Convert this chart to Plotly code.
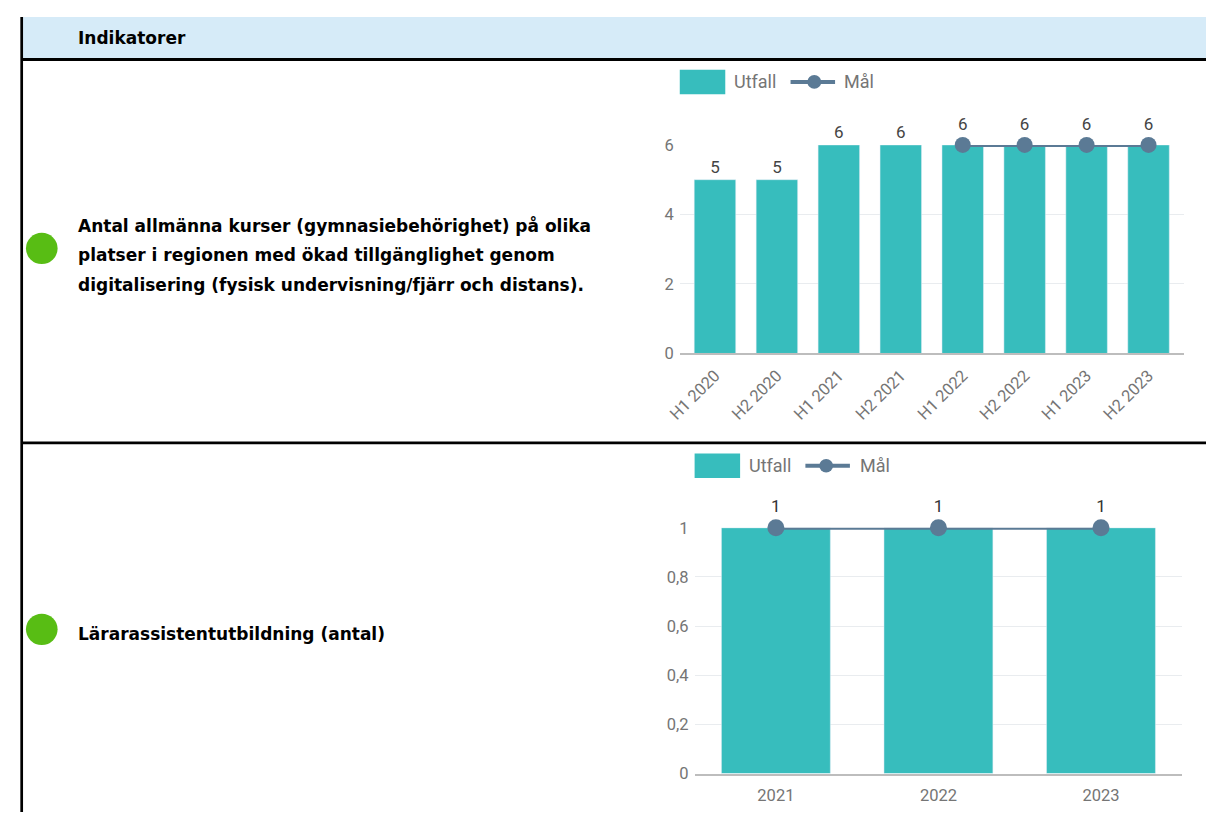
import plotly.graph_objects as go

# Data
perioder = ["H1 2020", "H2 2020", "H1 2021", "H2 2021", "H1 2022", "H2 2022", "H1 2023", "H2 2023"]
utfall_kurser = [5, 5, 6, 6, 6, 6, 6, 6]
mal_kurser = [None, None, None, None, 6, 6, 6, 6]

ar = ["2021", "2022", "2023"]
utfall_assistent = [1, 1, 1]
mal_assistent = [1, 1, 1]

rubrik = "Indikatorer"
indikator1 = ["Antal allmänna kurser (gymnasiebehörighet) på olika",
              "platser i regionen med ökad tillgänglighet genom",
              "digitalisering (fysisk undervisning/fjärr och distans)."]
indikator2 = "Lärarassistentutbildning (antal)"

# sidan har 8 px marginal runt figuren, så figuren görs lite mindre än fönstret
W, H = 1198, 814
OFF = 8
TEAL = "#37bdbd"
SLATE = "#5b7a95"
GREY = "#757575"
GREEN = "#58bd14"


def px(x):
    return min(max((x - OFF) / W, 0), 1)


def py(y):
    return min(max(1 - (y - OFF) / H, 0), 1)


# etiketter: staplar utan mål får sin etikett på stapeln, annars visas den över målpunkten
text_staplar = [str(u) if m is None else "" for u, m in zip(utfall_kurser, mal_kurser)]

fig = go.Figure()

# Diagram 1
fig.add_trace(go.Bar(x=perioder, y=utfall_kurser, name="Utfall", marker=dict(color=TEAL),
                     text=text_staplar, textposition="outside", cliponaxis=False,
                     textfont=dict(color="#444", size=17, family="Roboto"),
                     xaxis="x", yaxis="y", showlegend=False))
fig.add_trace(go.Scatter(x=perioder, y=mal_kurser, name="Mål", mode="lines+markers+text",
                         text=mal_kurser, textposition="top center",
                         textfont=dict(color="#444", size=17, family="Roboto"),
                         line=dict(color=SLATE, width=4), marker=dict(color=SLATE, size=16),
                         cliponaxis=False, xaxis="x", yaxis="y", showlegend=False))

# Diagram 2
fig.add_trace(go.Bar(x=ar, y=utfall_assistent, name="Utfall", marker=dict(color=TEAL),
                     xaxis="x2", yaxis="y2", showlegend=False))
fig.add_trace(go.Scatter(x=ar, y=mal_assistent, name="Mål", mode="lines+markers+text",
                         text=mal_assistent, textposition="top center",
                         textfont=dict(color="#333", size=17, family="Roboto"),
                         line=dict(color=SLATE, width=4), marker=dict(color=SLATE, size=17),
                         cliponaxis=False, xaxis="x2", yaxis="y2", showlegend=False))

axfont = dict(family="Roboto", size=16.5, color=GREY)

# Tabellen: rubrikrad, linjer och gröna statuspunkter
shapes = [
    dict(type="rect", xref="paper", yref="paper", x0=px(9), x1=1, y0=py(51), y1=py(6),
         fillcolor="#d6ebf8", line=dict(width=0), layer="below"),
    dict(type="line", xref="paper", yref="paper", x0=px(8.7), x1=px(8.7), y0=0, y1=py(6),
         line=dict(color="black", width=2.7)),
    dict(type="line", xref="paper", yref="paper", x0=px(8), x1=1, y0=py(51.5), y1=py(51.5),
         line=dict(color="black", width=3)),
    dict(type="line", xref="paper", yref="paper", x0=px(8), x1=1, y0=py(444), y1=py(444),
         line=dict(color="black", width=2.7)),
    dict(type="circle", xref="paper", yref="paper", x0=px(13), x1=px(45), y0=py(261), y1=py(229),
         fillcolor=GREEN, line=dict(width=0)),
    dict(type="circle", xref="paper", yref="paper", x0=px(13), x1=px(45), y0=py(651), y1=py(619),
         fillcolor=GREEN, line=dict(width=0)),
]

# Förklaringar (ritade för hand för att få breda rutor som i originalet)
legendfont = dict(family="Roboto", size=18, color=GREY)
annotations = []
for top, sx, tx, lx, mx, mtx in [(62, 674, 727, 786, 810, 838), (455, 689, 742, 801, 822, 854)]:
    mid = top + 12.5
    shapes.append(dict(type="rect", xref="paper", yref="paper", x0=px(sx), x1=px(sx + 46),
                       y0=py(top + 25), y1=py(top), fillcolor=TEAL, line=dict(width=0)))
    shapes.append(dict(type="line", xref="paper", yref="paper", x0=px(lx), x1=px(lx + 45),
                       y0=py(mid), y1=py(mid), line=dict(color=SLATE, width=4)))
    shapes.append(dict(type="circle", xref="paper", yref="paper", x0=px(mx - 7), x1=px(mx + 7),
                       y0=py(mid + 7), y1=py(mid - 7), fillcolor=SLATE, line=dict(width=0)))
    annotations.append(dict(text="Utfall", x=px(tx), y=py(mid), xref="paper", yref="paper",
                            xanchor="left", yanchor="middle", showarrow=False, font=legendfont))
    annotations.append(dict(text="Mål", x=px(mtx), y=py(mid), xref="paper", yref="paper",
                            xanchor="left", yanchor="middle", showarrow=False, font=legendfont))

textfont = dict(family="DejaVu Sans", size=17, color="black")
annotations.append(dict(text="<b>" + rubrik + "</b>", x=px(64), y=py(29), xref="paper",
                        yref="paper", xanchor="left", yanchor="middle", showarrow=False,
                        font=textfont))
for i, rad in enumerate(indikator1):
    annotations.append(dict(text="<b>" + rad + "</b>", x=px(64), y=py(221 + 30.5 * i),
                            xref="paper", yref="paper", xanchor="left", yanchor="middle",
                            showarrow=False, font=textfont))
annotations.append(dict(text="<b>" + indikator2 + "</b>", x=px(64), y=py(640), xref="paper",
                        yref="paper", xanchor="left", yanchor="middle", showarrow=False,
                        font=textfont))

fig.update_layout(
    width=W, height=H,
    margin=dict(l=0, r=0, t=0, b=0),
    paper_bgcolor="white", plot_bgcolor="white",
    separators=", ",
    bargap=0.33,
    shapes=shapes,
    annotations=annotations,
    xaxis=dict(domain=[px(674), px(1183.5)], type="category", tickangle=-45, tickfont=axfont,
               showgrid=False, showline=True, linecolor="#bdbdbd", linewidth=2, ticks="",
               ticklabelstandoff=4),
    yaxis=dict(domain=[py(352.5), py(139)], range=[0, 6], dtick=2, tickfont=axfont,
               gridcolor="#e9ecef", zeroline=False, ticks="", ticklabelstandoff=5),
    xaxis2=dict(domain=[px(689), px(1182)], type="category", tickfont=axfont,
                showgrid=False, showline=True, linecolor="#bdbdbd", linewidth=2, ticks="",
                anchor="y2", ticklabelstandoff=6),
    yaxis2=dict(domain=[py(782.7), py(531)], range=[0, 1], dtick=0.2, tickfont=axfont,
                gridcolor="#e9ecef", zeroline=False, ticks="", anchor="x2", tickformat=".1~f",
                ticklabelstandoff=5),
)

fig.write_html("out.html")
